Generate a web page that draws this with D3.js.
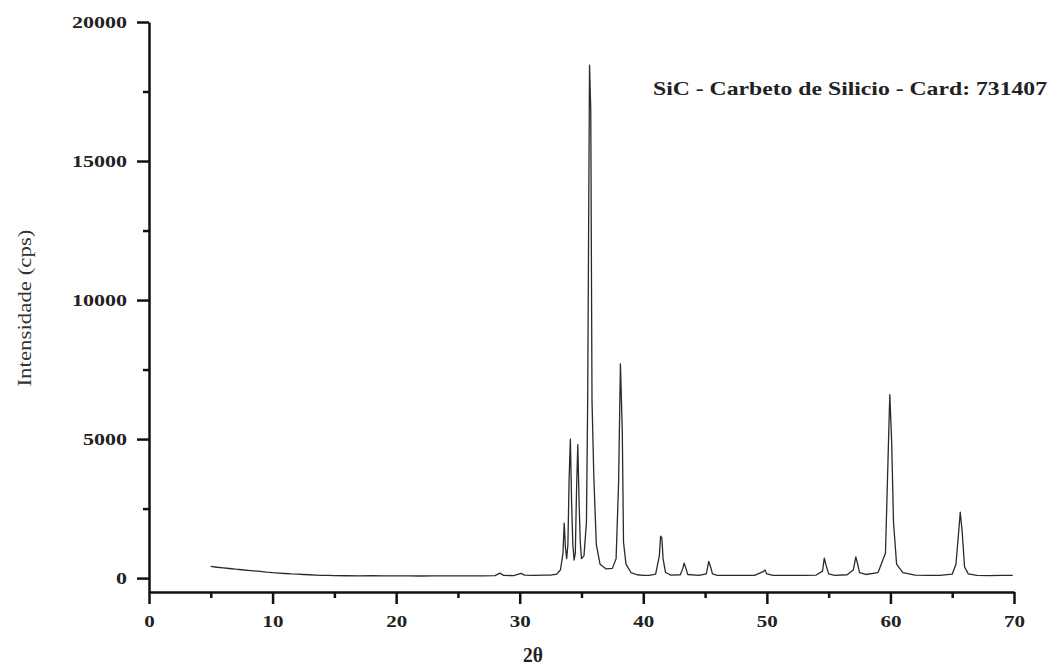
<!DOCTYPE html>
<html>
<head>
<meta charset="utf-8">
<script src="https://cdn.jsdelivr.net/npm/d3@7"></script>
<style>
  body { margin: 0; background: #fff; }
  svg { display: block; }
</style>
</head>
<body>
<svg id="chart"></svg>
<script>
// diffractogram
const twoTheta = [
  5.0, 5.5, 6.0, 6.5, 7.0, 7.5, 8.0, 8.5, 9.0, 9.5,
  10.0, 10.5, 11.0, 11.5, 12.0, 12.5, 13.0, 13.5, 14.0, 14.5,
  15.0, 16.0, 17.0, 18.0, 19.0, 20.0, 21.0, 22.0, 23.0, 24.0,
  25.0, 26.0, 27.0, 28.0, 28.4, 28.7, 29.5, 30.1, 30.4, 31.0,
  32.0, 32.5, 33.0, 33.3, 33.5, 33.6, 33.7, 33.8, 33.9, 34.0,
  34.1, 34.2, 34.3, 34.4, 34.5, 34.6, 34.7, 34.8, 34.9, 35.0,
  35.2, 35.4, 35.5, 35.65, 35.75, 35.85, 36.0, 36.2, 36.5, 37.0,
  37.5, 37.8, 38.0, 38.15, 38.3, 38.4, 38.6, 39.0, 39.5, 40.0,
  40.5, 41.0, 41.3, 41.4, 41.5, 41.6, 41.8, 42.2, 43.0, 43.2,
  43.3, 43.45, 43.6, 44.5, 45.1, 45.3, 45.45, 45.6, 46.0, 47.0,
  48.0, 49.0, 49.7, 49.85, 50.0, 50.5, 52.0, 53.0, 54.0, 54.5,
  54.65, 54.8, 55.0, 55.5, 56.5, 57.0, 57.2, 57.35, 57.5, 58.0,
  59.0, 59.6, 59.85, 59.95, 60.1, 60.25, 60.5, 61.0, 62.0, 63.0,
  64.0, 65.0, 65.3, 65.55, 65.65, 65.8, 66.0, 66.3, 67.0, 68.0,
  69.0, 69.9
];
const intensity = [
  420, 390, 370, 345, 320, 300, 280, 260, 240, 215,
  195, 180, 165, 150, 140, 130, 120, 110, 100, 95,
  90, 85, 80, 85, 80, 78, 80, 75, 78, 80,
  80, 82, 80, 90, 180, 95, 90, 170, 110, 100,
  105, 110, 140, 300, 900, 1980, 1100, 700, 1200, 3600,
  5000, 2700, 1200, 650, 900, 3200, 4800, 2800, 1300, 700,
  800, 2000, 6400, 18450, 16800, 6400, 3600, 1200, 500, 330,
  350, 700, 3400, 7700, 5300, 1300, 500, 200, 120, 100,
  100, 140, 800, 1510, 1450, 700, 200, 110, 120, 350,
  540, 350, 130, 100, 150, 600, 400, 150, 100, 100,
  95, 100, 230, 290, 150, 100, 100, 95, 110, 250,
  720, 450, 150, 100, 120, 300, 760, 500, 200, 130,
  200, 900, 5000, 6600, 4900, 2000, 500, 200, 110, 100,
  100, 140, 500, 1800, 2370, 1700, 400, 150, 100, 90,
  95, 100
];

const xMajor = [0, 10, 20, 30, 40, 50, 60, 70];
const xMinor = [5, 15, 25, 35, 45, 55, 65];
const yMajor = [0, 5000, 10000, 15000, 20000];
const yMinor = [2500, 7500, 12500, 17500];

const title = "SiC - Carbeto de Silicio - Card: 731407";
const xLabel = "2θ";
const yLabel = "Intensidade (cps)";

const width = 1053;
const height = 666;
const serif = "Liberation Serif, Times New Roman, serif";

const svg = d3.select("#chart")
  .attr("width", width)
  .attr("height", height);

const x = d3.scaleLinear().domain([0, 70]).range([149, 1014]);
const y = d3.scaleLinear().domain([-500, 20000]).range([592, 22]);

// stretch glyphs a bit, the source is wider than a normal serif
const stretch = (sel, perChar) => sel.each(function () {
  const t = d3.select(this);
  const n = t.text().length;
  if (n) t.attr("textLength", n * perChar).attr("lengthAdjust", "spacingAndGlyphs");
});

// x axis
const gx = svg.append("g")
  .attr("transform", `translate(0, ${y(-500)})`)
  .call(d3.axisBottom(x).tickValues(xMajor).tickSize(12).tickSizeOuter(0).tickFormat(d3.format("d")));
svg.append("g")
  .attr("transform", `translate(0, ${y(-500)})`)
  .call(d3.axisBottom(x).tickValues(xMinor).tickSize(6).tickSizeOuter(0).tickFormat(""))
  .select(".domain").remove();

// y axis
const gy = svg.append("g")
  .attr("transform", `translate(${x(0)}, 0)`)
  .call(d3.axisLeft(y).tickValues(yMajor).tickSize(12).tickSizeOuter(0).tickPadding(10).tickFormat(d3.format("d")));
svg.append("g")
  .attr("transform", `translate(${x(0)}, 0)`)
  .call(d3.axisLeft(y).tickValues(yMinor).tickSize(6).tickSizeOuter(0).tickFormat(""))
  .select(".domain").remove();

svg.selectAll(".domain").attr("stroke", "#111").attr("stroke-width", 2.5);
svg.selectAll(".tick line").attr("stroke", "#111").attr("stroke-width", 2.5);

gx.selectAll(".tick text")
  .attr("y", 35).attr("dy", 0)
  .attr("font-family", serif).attr("font-size", 17).attr("font-weight", "bold")
  .attr("fill", "#222")
  .call(stretch, 10.5);

gy.selectAll(".tick text")
  .attr("dy", "0.33em")
  .attr("font-family", serif).attr("font-size", 17).attr("font-weight", "bold")
  .attr("fill", "#222")
  .call(stretch, 11);

// pattern
const line = d3.line()
  .x((d, i) => x(twoTheta[i]))
  .y(d => y(d));

svg.append("path")
  .datum(intensity)
  .attr("fill", "none")
  .attr("stroke", "#2a2a2a")
  .attr("stroke-width", 1.3)
  .attr("stroke-linejoin", "round")
  .attr("d", line);

// texts
svg.append("text")
  .attr("x", 653).attr("y", 95)
  .attr("font-family", serif).attr("font-size", 19).attr("font-weight", "bold")
  .attr("fill", "#222")
  .attr("textLength", 394).attr("lengthAdjust", "spacingAndGlyphs")
  .text(title);

svg.append("text")
  .attr("x", 533).attr("y", 662)
  .attr("text-anchor", "middle")
  .attr("font-family", serif).attr("font-size", 20).attr("font-weight", "bold")
  .attr("fill", "#222")
  .attr("textLength", 20).attr("lengthAdjust", "spacingAndGlyphs")
  .text(xLabel);

svg.append("text")
  .attr("transform", "translate(31, 308) rotate(-90)")
  .attr("text-anchor", "middle")
  .attr("font-family", serif).attr("font-size", 18)
  .attr("fill", "#333")
  .attr("textLength", 157).attr("lengthAdjust", "spacingAndGlyphs")
  .text(yLabel);
</script>
</body>
</html>
